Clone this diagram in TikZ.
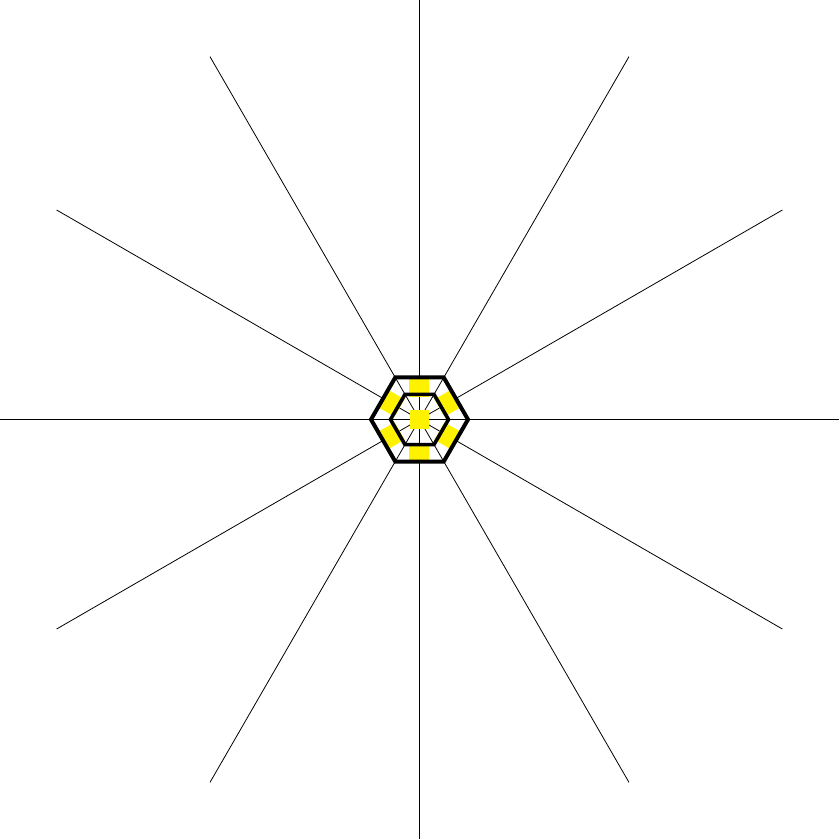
\documentclass[tikz,border=0pt]{standalone}
\begin{document}
\begin{tikzpicture}[x=1pt,y=1pt,
  ray/.style={black,line width=0.8pt},
  hexline/.style={black,line join=miter},
  patch/.style={fill=yellow,draw=none}]
\useasboundingbox (-419.5,-419.5) rectangle (419.5,419.5);
\coordinate (c) at (0,0);
\foreach \a in {0,30,...,330}{
  \coordinate (e\a) at (\a:419);
  \draw[ray] (c) -- (e\a);
}
\fill[patch] (-9.2,-9.2) rectangle (9.2,9.2);
\foreach \a in {30,90,...,330}{
  \fill[patch,rotate=\a] (23,-10) rectangle (43,10);
}
\draw[hexline,line width=3.6pt] (0:29) \foreach \a in {60,120,...,300}{ -- (\a:29)} -- cycle;
\draw[hexline,line width=4pt] (0:48.5) \foreach \a in {60,120,...,300}{ -- (\a:48.5)} -- cycle;
\end{tikzpicture}
\end{document}
